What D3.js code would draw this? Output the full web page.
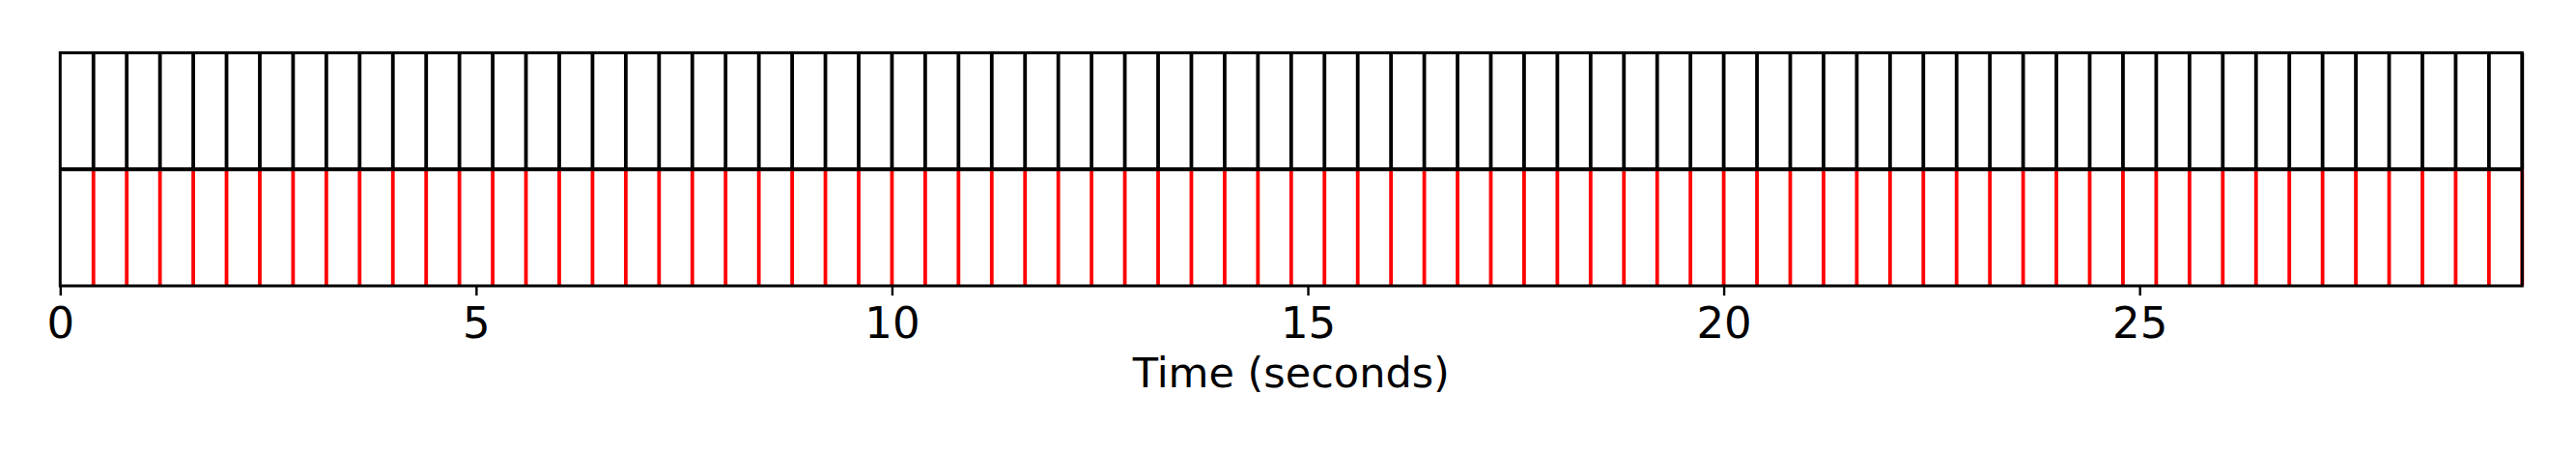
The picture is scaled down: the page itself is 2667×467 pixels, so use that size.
<!DOCTYPE html>
<html>
<head>
<meta charset="utf-8">
<script src="https://cdn.jsdelivr.net/npm/d3@7"></script>
<style>
html,body{margin:0;padding:0;background:#fff;}
svg{display:block;font-family:"DejaVu Sans",sans-serif;}
</style>
</head>
<body>
<svg id="chart" width="2667" height="467"></svg>
<script>
// Data
const referenceBeats = [0.40,0.80,1.20,1.60,2.00,2.40,2.80,3.20,3.60,4.00,4.40,4.80,5.20,5.60,6.00,6.40,6.80,7.20,7.60,8.00,8.40,8.80,9.20,9.60,10.00,10.40,10.80,11.20,11.60,12.00,12.40,12.80,13.20,13.60,14.00,14.40,14.80,15.20,15.60,16.00,16.40,16.80,17.20,17.60,18.00,18.40,18.80,19.20,19.60,20.00,20.40,20.80,21.20,21.60,22.00,22.40,22.80,23.20,23.60,24.00,24.40,24.80,25.20,25.60,26.00,26.40,26.80,27.20,27.60,28.00,28.40,28.80,29.20,29.60];
const estimatedBeats = [0.40,0.80,1.20,1.60,2.00,2.40,2.80,3.20,3.60,4.00,4.40,4.80,5.20,5.60,6.00,6.40,6.80,7.20,7.60,8.00,8.40,8.80,9.20,9.60,10.00,10.40,10.80,11.20,11.60,12.00,12.40,12.80,13.20,13.60,14.00,14.40,14.80,15.20,15.60,16.00,16.40,16.80,17.20,17.60,18.00,18.40,18.80,19.20,19.60,20.00,20.40,20.80,21.20,21.60,22.00,22.40,22.80,23.20,23.60,24.00,24.40,24.80,25.20,25.60,26.00,26.40,26.80,27.20,27.60,28.00,28.40,28.80,29.20,29.60];
const lanes = ["reference", "estimate"];
const xTicks = [0, 5, 10, 15, 20, 25];
const xDomain = [0, 29.6];
const xLabel = "Time (seconds)";

(function () {
const svg = d3.select("#chart");
const mLeft = 62.3, mRight = 2611.3, mTop = 54.7, mBottom = 296;

const x = d3.scaleLinear().domain(xDomain).range([mLeft, mRight]);
const y = d3.scaleBand().domain(lanes).range([mTop, mBottom]).padding(0);

const lw = 3.8;
const fw = 3.0;

// reference lane (black)
svg.append("g").selectAll("line").data(referenceBeats).join("line")
  .attr("x1", d => x(d)).attr("x2", d => x(d))
  .attr("y1", y("reference")).attr("y2", y("reference") + y.bandwidth())
  .attr("stroke", "#000").attr("stroke-width", lw);

// estimate lane (red)
svg.append("g").selectAll("line").data(estimatedBeats).join("line")
  .attr("x1", d => x(d)).attr("x2", d => x(d))
  .attr("y1", y("estimate")).attr("y2", y("estimate") + y.bandwidth())
  .attr("stroke", "#ff0000").attr("stroke-width", lw);

// lane separator
svg.append("line")
  .attr("x1", mLeft).attr("x2", mRight)
  .attr("y1", y("estimate")).attr("y2", y("estimate"))
  .attr("stroke", "#000").attr("stroke-width", 4);

// frame
svg.append("rect")
  .attr("x", mLeft).attr("y", mTop)
  .attr("width", mRight - mLeft).attr("height", mBottom - mTop)
  .attr("fill", "none").attr("stroke", "#000").attr("stroke-width", fw);

// x axis
const axis = d3.axisBottom(x).tickValues(xTicks).tickFormat(d3.format("d"))
  .tickSize(10).tickPadding(12.5);
const gx = svg.append("g").attr("transform", `translate(0,${mBottom})`).call(axis);
gx.select(".domain").remove();
gx.selectAll(".tick line").attr("stroke", "#000").attr("stroke-width", 2.4);
gx.selectAll(".tick text").attr("font-size", 45).attr("font-family", "DejaVu Sans").attr("fill", "#000");

svg.append("text")
  .attr("x", (mLeft + mRight) / 2).attr("y", 401)
  .attr("text-anchor", "middle")
  .attr("font-size", 43).attr("font-family", "DejaVu Sans").attr("fill", "#000")
  .text(xLabel);
})();
</script>
</body>
</html>
